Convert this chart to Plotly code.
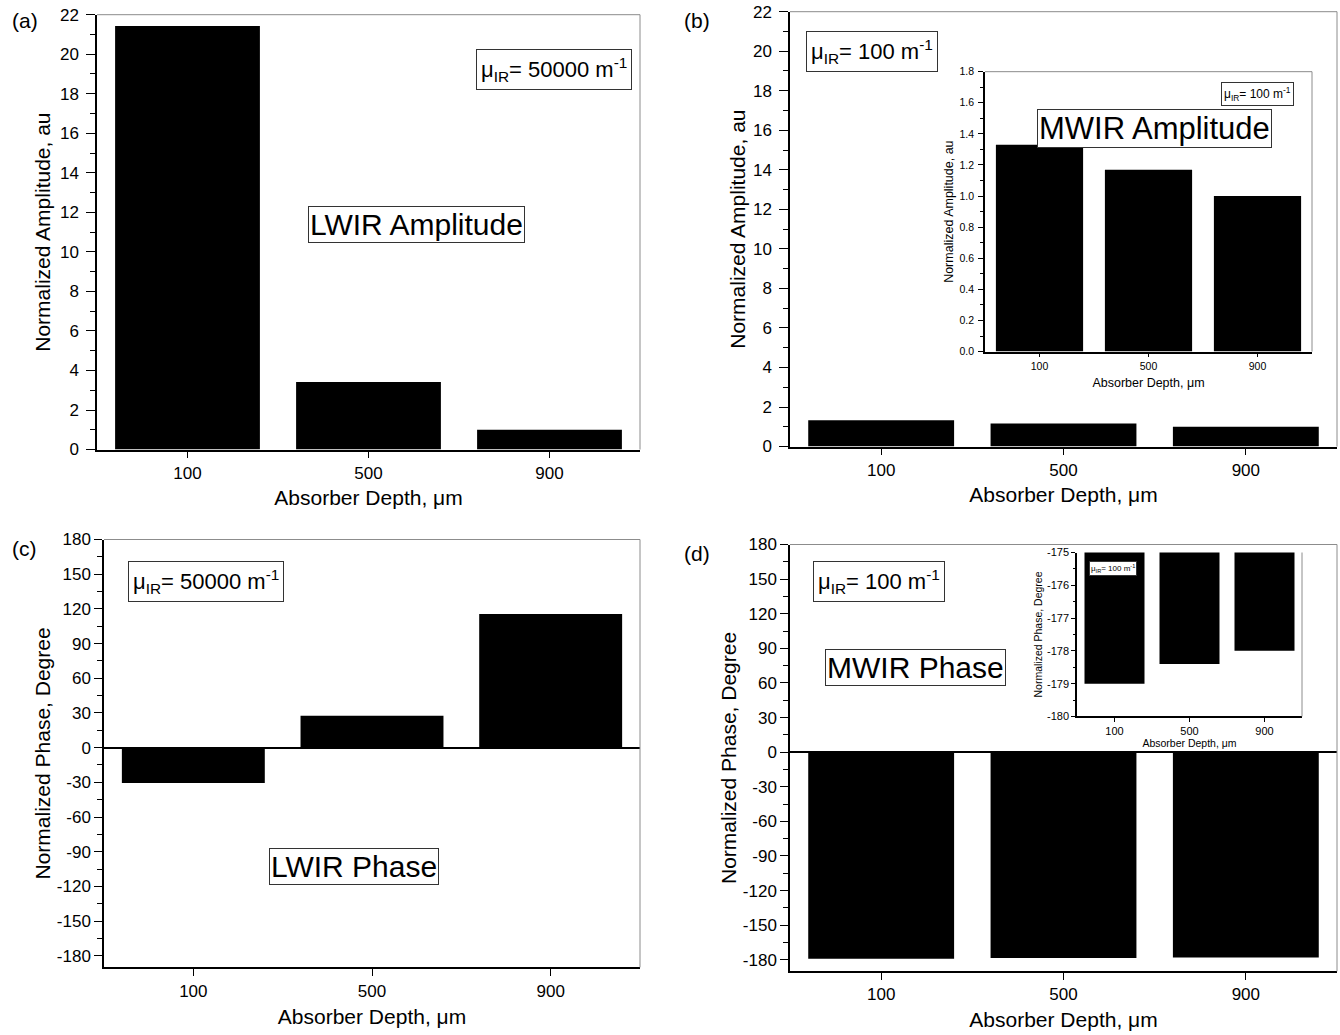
import plotly.graph_objects as go

# ---------------- data ----------------
depths = ["100", "500", "900"]
lwir_amp = [21.43, 3.42, 1.0]
mwir_amp = [1.33, 1.17, 1.0]
lwir_phase = [-30.5, 27.5, 115.5]
mwir_phase = [-179.0, -178.4, -178.0]

# tick values / labels
amp_ticks = [0, 2, 4, 6, 8, 10, 12, 14, 16, 18, 20, 22]
amp_labels = ["0", "2", "4", "6", "8", "10", "12", "14", "16", "18", "20", "22"]
inset_amp_ticks = [0.0, 0.2, 0.4, 0.6, 0.8, 1.0, 1.2, 1.4, 1.6, 1.8]
inset_amp_labels = ["0.0", "0.2", "0.4", "0.6", "0.8", "1.0", "1.2", "1.4", "1.6", "1.8"]
phase_ticks = [-180, -150, -120, -90, -60, -30, 0, 30, 60, 90, 120, 150, 180]
phase_labels = ["-180", "-150", "-120", "-90", "-60", "-30", "0", "30", "60", "90",
                "120", "150", "180"]
inset_phase_ticks = [-180, -179, -178, -177, -176, -175]
inset_phase_labels = ["-180", "-179", "-178", "-177", "-176", "-175"]

W, H = 1340, 1035
FONT = "Liberation Sans, Arial, sans-serif"


def px(x):
    return x / W


def py(y):
    # vertical position (pixels from top) -> paper fraction
    return 1 - ((y - 9.3) / 0.982) / H


pos = list(range(len(depths)))
fig = go.Figure()

# sfx, values, xdom, ydom(top,bottom), yrange, tickvals, ticktext, minor dtick, tickfont,
# titlefont, ytitle, xtitle, y ticklen, minor len, y title standoff, x title standoff,
# y ticklabel standoff, x ticklen
panels = [
    ("", lwir_amp, (97, 640), (15, 450), [0, 22], amp_ticks, amp_labels, 1, 17, 21,
     "Normalized Amplitude, au", "Absorber Depth, μm", 9, 5, 4, 9, 4, 7),
    ("2", mwir_amp, (790, 1337), (12, 447), [0, 22], amp_ticks, amp_labels, 1, 17, 21,
     "Normalized Amplitude, au", "Absorber Depth, μm", 9, 5, 2, 9, 4, 7),
    ("3", mwir_amp, (985, 1312), (72, 352), [0, 1.8], inset_amp_ticks, inset_amp_labels, 0.1,
     10.5, 12.5, "Normalized Amplitude, au", "Absorber Depth, μm", 5, 3, 3, 7, 2, 4),
    ("4", lwir_phase, (104, 640), (540, 968), [-190, 180], phase_ticks, phase_labels, 15, 17, 21,
     "Normalized Phase, Degree", "Absorber Depth, μm", 8, 5, 0, 10, 0, 7),
    ("5", mwir_phase, (790, 1337), (545, 972), [-190, 180], phase_ticks, phase_labels, 15, 17, 21,
     "Normalized Phase, Degree", "Absorber Depth, μm", 8, 5, 0, 9, 0, 7),
    ("6", mwir_phase, (1077, 1302), (553, 717), [-180, -175], inset_phase_ticks,
     inset_phase_labels, 0.5, 11, 10.5,
     "Normalized Phase, Degree", "Absorber Depth, μm", 4, 2, 2, 3, 0, 4),
]

shapes = []
for (sfx, vals, xd, yd, yr, tv, tt, mdt, tf, ttf, ytit, xtit, tl, ml, ys, xs, tso,
     xtl) in panels:
    xa = "x" + sfx
    ya = "y" + sfx
    fig.add_trace(go.Bar(x=pos, y=vals, width=0.8, xaxis=xa, yaxis=ya,
                         marker=dict(color="black", line=dict(width=0)),
                         showlegend=False, hoverinfo="x+y"))
    xkey = "xaxis" + sfx
    ykey = "yaxis" + sfx
    phase = yr[0] < 0 < yr[1]
    fig.update_layout(**{
        xkey: dict(domain=[px(xd[0]), px(xd[1])], anchor=ya, range=[-0.5, 2.5],
                   tickmode="array", tickvals=pos, ticktext=depths, ticks="outside",
                   ticklen=xtl, tickwidth=1.2, tickcolor="black", showline=True,
                   linecolor="black", linewidth=1.5, showgrid=False, zeroline=False,
                   tickfont=dict(family=FONT, size=tf, color="black"),
                   ticklabelstandoff=0,
                   title=dict(text=xtit, font=dict(family=FONT, size=ttf, color="black"),
                              standoff=xs),
                   fixedrange=True),
        ykey: dict(domain=[py(yd[1]), py(yd[0])], anchor=xa, range=yr,
                   tickmode="array", tickvals=tv, ticktext=tt,
                   ticks="outside", ticklen=tl, tickwidth=1.2, tickcolor="black",
                   minor=dict(tickmode="linear", tick0=0, dtick=mdt, ticks="outside",
                              ticklen=ml, tickwidth=1, tickcolor="black", showgrid=False),
                   showline=True, linecolor="black", linewidth=1.5, showgrid=False,
                   zeroline=phase, zerolinecolor="black", zerolinewidth=1.5,
                   tickfont=dict(family=FONT, size=tf, color="black"),
                   ticklabelstandoff=tso,
                   title=dict(text=ytit, font=dict(family=FONT, size=ttf, color="black"),
                              standoff=ys),
                   fixedrange=True),
    })
    dref_x = xa + " domain"
    dref_y = ya + " domain"
    if sfx != "6":
        shapes.append(dict(type="line", xref=dref_x, yref=dref_y, x0=0, x1=1, y0=1, y1=1,
                           line=dict(color="#8c8c8c", width=1)))
    shapes.append(dict(type="line", xref=dref_x, yref=dref_y, x0=1, x1=1, y0=0, y1=1,
                       line=dict(color="#8c8c8c", width=1)))

annotations = []


def boxed(text, cx, cy, size, pad):
    annotations.append(dict(text=text, x=px(cx), y=py(cy), xref="paper", yref="paper",
                            xanchor="center", yanchor="middle", showarrow=False,
                            font=dict(family=FONT, size=size, color="black"),
                            bgcolor="white", bordercolor="#333333", borderwidth=1,
                            borderpad=pad))


def label(text, cx, cy, size):
    annotations.append(dict(text=text, x=px(cx), y=py(cy), xref="paper", yref="paper",
                            xanchor="center", yanchor="middle", showarrow=False,
                            font=dict(family=FONT, size=size, color="black")))


mu50 = "μ<sub>IR</sub>= 50000 m<sup>-1</sup>"
mu100 = "μ<sub>IR</sub>= 100 m<sup>-1</sup>"

boxed(mu50, 554, 70, 22, 4)
boxed("LWIR Amplitude", 416, 225, 30, 1)
boxed(mu100, 872, 52, 22, 4)
boxed("MWIR Amplitude", 1154, 129, 31, 1)
boxed(mu100, 1257, 94, 12, 2)
boxed(mu50, 206, 582, 22, 4)
boxed("LWIR Phase", 354, 867, 30, 1)
boxed(mu100, 879, 582, 22, 4)
boxed("MWIR Phase", 916, 668, 30, 1)
boxed(mu100, 1113, 569, 8, 1)

label("(a)", 25, 21, 21)
label("(b)", 697, 21, 21)
label("(c)", 25, 549, 21)
label("(d)", 697, 554, 21)

fig.update_layout(width=W, height=H, margin=dict(l=0, r=0, t=0, b=0),
                  paper_bgcolor="white", plot_bgcolor="rgba(0,0,0,0)",
                  showlegend=False, bargap=0.2,
                  font=dict(family=FONT, color="black"),
                  shapes=shapes, annotations=annotations)

fig.write_html("out.html", config={"displayModeBar": False},
               post_script="document.body.style.margin='0px';"
                           "document.body.style.overflow='hidden';")
